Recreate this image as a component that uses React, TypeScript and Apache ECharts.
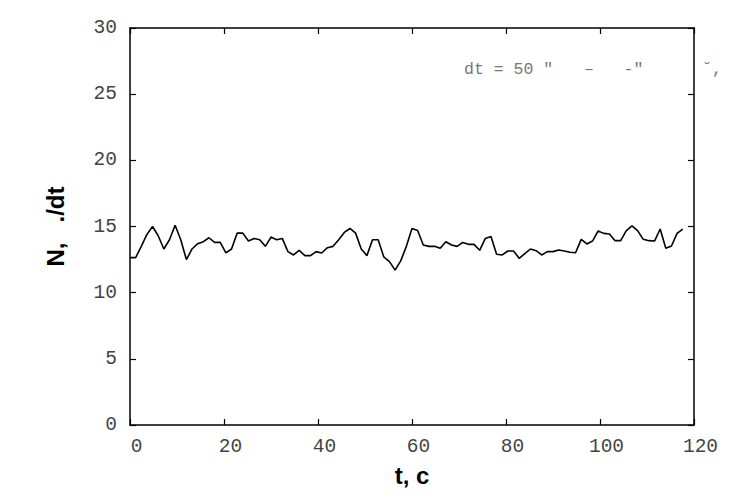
import React, { useEffect, useRef } from "react";
import * as echarts from "echarts";

// Sampling step of the time grid (s)
const T_STEP = 1.2;

// N per dt values, one per sample
const N_VALUES: number[] = [
  12.65, 12.65, 13.5, 14.4, 15.0, 14.3, 13.3, 14.0, 15.1, 14.0,
  12.5, 13.3, 13.7, 13.85, 14.15, 13.8, 13.8, 13.0, 13.3, 14.5,
  14.5, 13.9, 14.1, 14.0, 13.5, 14.2, 14.0, 14.1, 13.1, 12.85,
  13.2, 12.8, 12.8, 13.1, 13.0, 13.4, 13.5, 14.0, 14.55, 14.85,
  14.5, 13.3, 12.8, 14.0, 14.0, 12.7, 12.35, 11.7, 12.4, 13.5,
  14.85, 14.7, 13.6, 13.5, 13.5, 13.35, 13.85, 13.6, 13.5, 13.8,
  13.65, 13.65, 13.2, 14.1, 14.25, 12.9, 12.85, 13.15, 13.15, 12.6,
  12.95, 13.3, 13.17, 12.85, 13.1, 13.1, 13.22, 13.15, 13.05, 13.02,
  14.03, 13.68, 13.9, 14.66, 14.48, 14.43, 13.93, 13.93, 14.69, 15.04,
  14.69, 14.03, 13.93, 13.9, 14.81, 13.35, 13.53, 14.48, 14.81,
];

const X_NAME = "t, c";
const Y_NAME = "N,   ./dt";
const NOTE_PARTS: string[] = ["dt = 50 \u2033", "\u2013   -\u2033", "\u02D8,"];

const X_MIN = 0;
const X_MAX = 120;
const X_INTERVAL = 20;
const Y_MIN = 0;
const Y_MAX = 30;
const Y_INTERVAL = 5;

export default function App() {
  const ref = useRef<HTMLDivElement>(null);

  useEffect(() => {
    if (!ref.current) return;
    const chart = echarts.init(ref.current, undefined, { renderer: "svg" });
    const data = N_VALUES.map((v, i) => [+(i * T_STEP).toFixed(2), v]);
    const mono = "'Liberation Mono', 'DejaVu Sans Mono', monospace";
    const sans = "'Liberation Sans', Arial, sans-serif";
    const axisLine = { show: true, onZero: false, lineStyle: { color: "#000", width: 1.5 } };
    const tickIn = { show: true, inside: true, length: 6, lineStyle: { color: "#000", width: 1.2 } };
    const noteStyle = { fontFamily: mono, fontSize: 16.5, fill: "#777" };

    chart.setOption({
      animation: false,
      backgroundColor: "#fff",
      grid: { left: 130, right: 57, top: 28, bottom: 79, containLabel: false },
      xAxis: [
        {
          type: "value",
          min: X_MIN,
          max: X_MAX,
          interval: X_INTERVAL,
          position: "bottom",
          axisLine,
          axisTick: tickIn,
          splitLine: { show: false },
          axisLabel: {
            margin: 12,
            fontFamily: mono,
            fontSize: 19.5,
            color: "#444",
            padding: [0, 0, 0, 13],
          },
          name: X_NAME,
          nameLocation: "middle",
          nameGap: 38,
          nameTextStyle: { fontFamily: sans, fontWeight: "bold", fontSize: 24, color: "#000" },
        },
        {
          type: "value",
          min: X_MIN,
          max: X_MAX,
          interval: X_INTERVAL,
          position: "top",
          axisLine,
          axisTick: tickIn,
          splitLine: { show: false },
          axisLabel: { show: false },
        },
      ],
      yAxis: [
        {
          type: "value",
          min: Y_MIN,
          max: Y_MAX,
          interval: Y_INTERVAL,
          position: "left",
          axisLine,
          axisTick: tickIn,
          splitLine: { show: false },
          axisLabel: { margin: 13, fontFamily: mono, fontSize: 19.5, color: "#444" },
          name: Y_NAME,
          nameLocation: "middle",
          nameGap: 63,
          nameRotate: 90,
          nameTextStyle: { fontFamily: sans, fontWeight: "bold", fontSize: 24, color: "#000" },
        },
        {
          type: "value",
          min: Y_MIN,
          max: Y_MAX,
          interval: Y_INTERVAL,
          position: "right",
          axisLine,
          axisTick: tickIn,
          splitLine: { show: false },
          axisLabel: { show: false },
        },
      ],
      graphic: [
        { type: "text", left: 464, top: 61, style: { text: NOTE_PARTS[0], ...noteStyle } },
        { type: "text", left: 584, top: 61, style: { text: NOTE_PARTS[1], ...noteStyle } },
        { type: "text", left: 702, top: 61, style: { text: NOTE_PARTS[2], ...noteStyle } },
      ],
      series: [
        {
          type: "line",
          data,
          xAxisIndex: 0,
          yAxisIndex: 0,
          showSymbol: false,
          symbol: "none",
          lineStyle: { color: "#000", width: 1.6 },
        },
      ],
    });
    return () => chart.dispose();
  }, []);

  return (
    <div
      ref={ref}
      style={{ position: "absolute", left: 0, top: 0, width: 751, height: 504 }}
    />
  );
}
